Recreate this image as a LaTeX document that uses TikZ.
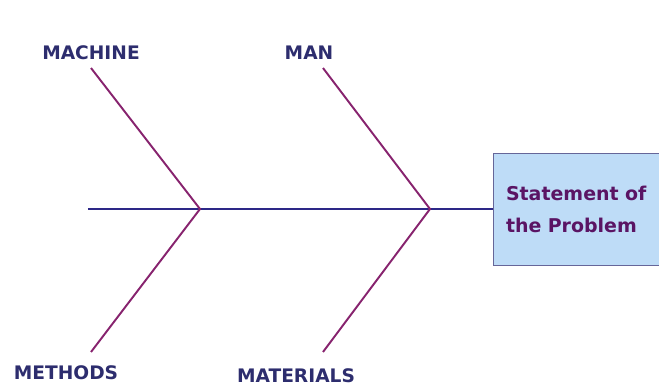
\documentclass[tikz,border=0pt]{standalone}
\usepackage{fontspec}
\setmainfont{DejaVu Sans}
\definecolor{spineblue}{RGB}{45,40,135}
\definecolor{bonepink}{RGB}{135,35,110}
\definecolor{causeblue}{RGB}{45,45,110}
\definecolor{effectfill}{RGB}{190,220,247}
\definecolor{effecttext}{RGB}{90,20,100}
\begin{document}
\begin{tikzpicture}[
        cause/.style={font=\bfseries\fontsize{10.6}{12}\selectfont, text=causeblue, inner sep=0pt},
        effect/.style={draw=gray!80!blue, fill=effectfill, line width=0.5pt, align=left, text width=2.92cm, inner xsep=0.26cm, minimum height=2.24cm, font=\bfseries\fontsize{10.8}{18.2}\selectfont, text=effecttext},
        spine/.style={line width=1.6pt, draw=spineblue},
        bone/.style={line width=1.1pt, draw=bonepink}
        ]
        \clip (0,0) rectangle (13.18,7.7);
        \node[effect] (problem) at (11.58,3.52) {Statement of\\the Problem};
        
        \coordinate (tail) at (1.76,3.52);
        \coordinate (j1) at (4.0,3.52);
        \coordinate (j2) at (8.6,3.52);
        
        \node[cause] (machine) at (1.82,6.64) {MACHINE};
        \node[cause] (man) at (6.18,6.65) {MAN};
        \node[cause] (methods) at (1.32,0.25) {METHODS};
        \node[cause] (materials) at (5.92,0.18) {MATERIALS};
        
        \coordinate (machinetip) at (1.82,6.34);
        \coordinate (mantip) at (6.46,6.34);
        \coordinate (methodstip) at (1.82,0.66);
        \coordinate (materialstip) at (6.46,0.66);
        
        \draw[spine] (tail) -- (problem);
        \draw[bone] (machinetip) -- (j1) -- (methodstip);
        \draw[bone] (mantip) -- (j2) -- (materialstip);
    \end{tikzpicture}
\end{document}
